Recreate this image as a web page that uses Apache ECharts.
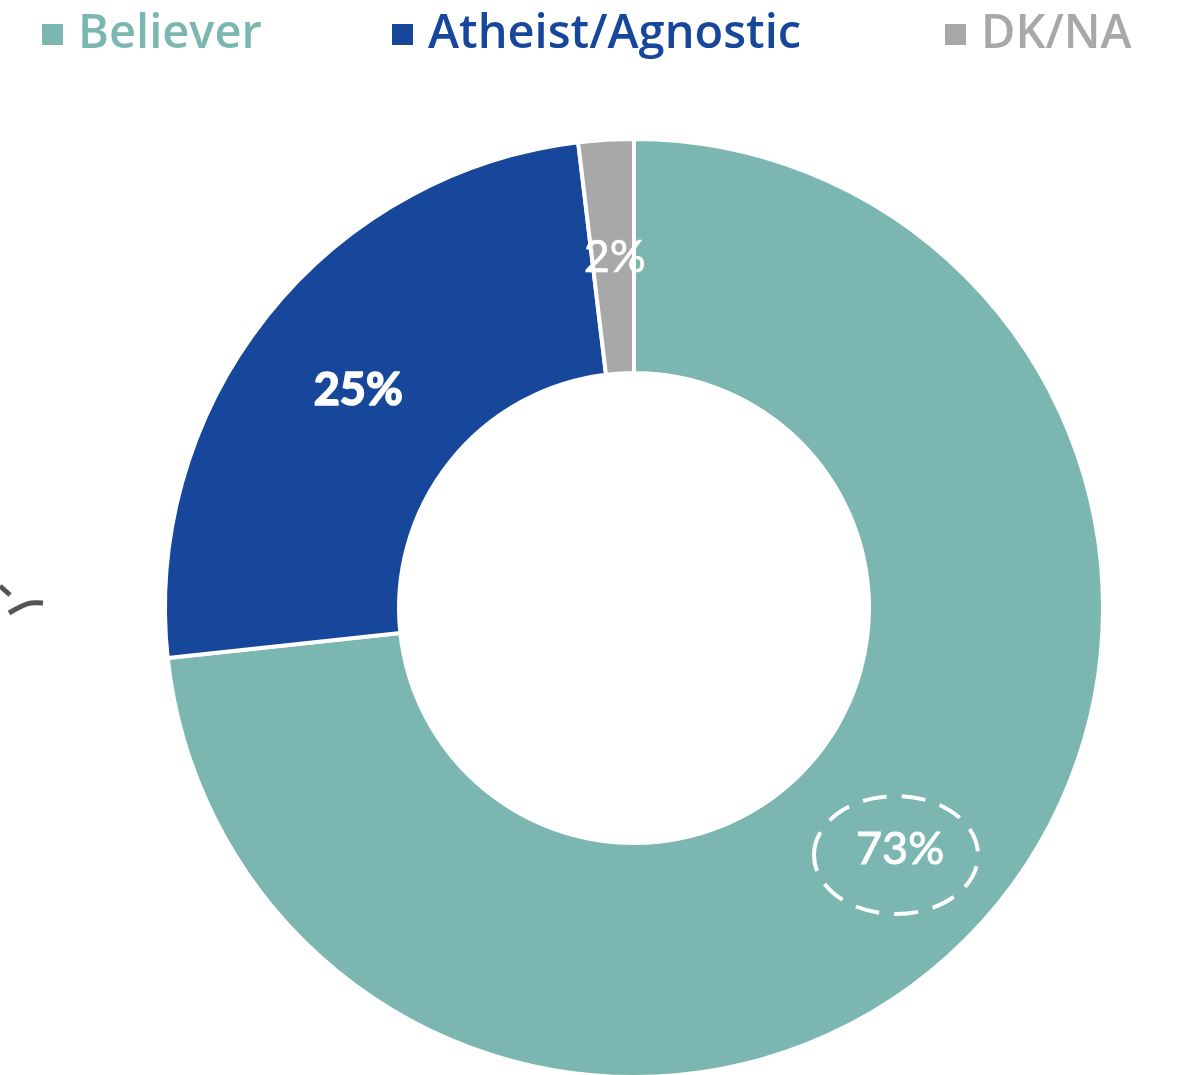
<!DOCTYPE html>
<html><head><meta charset="utf-8">
<script src="https://cdn.jsdelivr.net/npm/echarts@6/dist/echarts.min.js"></script>
<style>html,body{margin:0;padding:0;background:#fff}#c{width:1180px;height:1075px}</style>
</head><body><div id="c"></div>
<script>
const categories = ['Believer', 'Atheist/Agnostic', 'DK/NA'];
const values = [73.3, 24.8, 1.9];
const labels = ['73%', '25%', '2%'];
const colors = ['#7bb7b0', '#17479b', '#a8a8a8'];
const labelWeights = ['normal', 'bold', 'normal'];
const labelStrokes = [1, 1.6, 0.6];
const legendLefts = [35, 385, 938];

const chart = echarts.init(document.getElementById('c'));
chart.setOption({
  animation: false,
  legend: categories.map((n, i) => ({
    top: 6,
    left: legendLefts[i],
    icon: 'rect',
    itemWidth: 23,
    itemHeight: 23,
    textStyle: { fontSize: 47, fontWeight: 600, fontFamily: '"Open Sans", sans-serif', color: colors[i], padding: [0, 0, 0, 9] },
    data: [n],
    selectedMode: false
  })),
  series: [{
    type: 'pie',
    center: [634, 608],
    radius: [235, 469],
    startAngle: 90,
    clockwise: true,
    itemStyle: { borderColor: '#fff', borderWidth: 4 },
    label: { show: true, position: 'inside', color: '#fff', fontSize: 45, fontFamily: 'Lato, sans-serif', offset: [2, 4], textBorderColor: '#fff' },
    labelLine: { show: false },
    emphasis: { disabled: true },
    data: categories.map((n, i) => ({
      name: n, value: values[i],
      itemStyle: { color: colors[i] },
      label: { formatter: labels[i], fontWeight: labelWeights[i], textBorderWidth: labelStrokes[i] }
    }))
  }],
  graphic: [
    { type: 'ellipse', shape: { cx: 896, cy: 855, rx: 82, ry: 59 },
      style: { fill: null, stroke: '#fff', lineWidth: 4, lineDash: [24, 15] }, z: 100 },
    { type: 'polyline', shape: { points: [[0, 586], [10, 595]] },
      style: { stroke: '#555', lineWidth: 5, fill: null } },
    { type: 'polyline', shape: { points: [[9, 613], [22, 606], [31, 603], [43, 603]], smooth: 0.4 },
      style: { stroke: '#555', lineWidth: 5, fill: null } }
  ]
});
</script></body></html>
